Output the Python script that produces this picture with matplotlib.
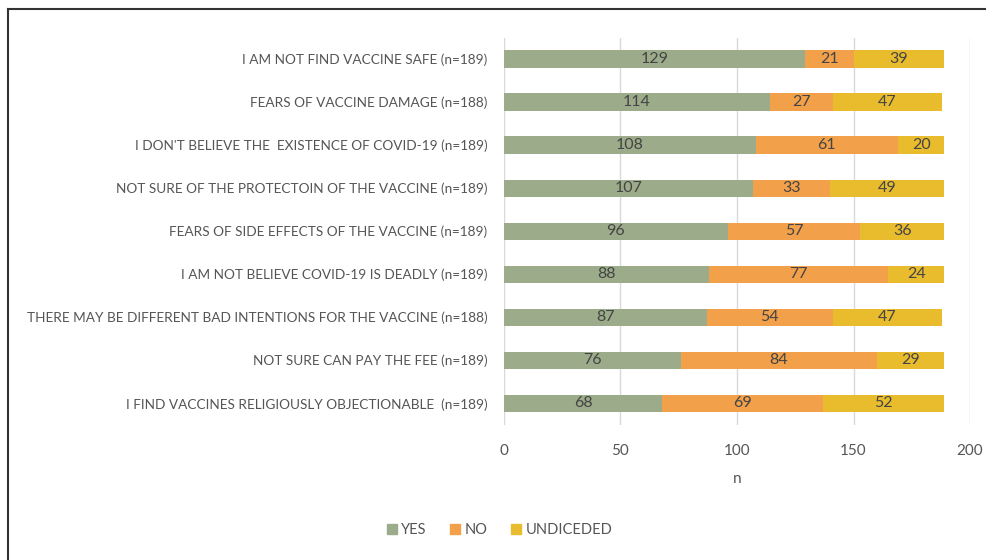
import matplotlib.pyplot as plt
import numpy as np
from matplotlib.lines import Line2D

plt.rcParams['font.family'] = ['Lato', 'DejaVu Sans']

# Данi (зверху вниз)
labels = [
    "I AM NOT FIND VACCINE SAFE (n=189)",
    "FEARS OF VACCINE DAMAGE (n=188)",
    "I DON'T BELIEVE THE  EXISTENCE OF COVID-19 (n=189)",
    "NOT SURE OF THE PROTECTOIN OF THE VACCINE (n=189)",
    "FEARS OF SIDE EFFECTS OF THE VACCINE (n=189)",
    "I AM NOT BELIEVE COVID-19 IS DEADLY (n=189)",
    "THERE MAY BE DIFFERENT BAD INTENTIONS FOR THE VACCINE (n=188)",
    "NOT SURE CAN PAY THE FEE (n=189)",
    "I FIND VACCINES RELIGIOUSLY OBJECTIONABLE  (n=189)",
]
yes = [129, 114, 108, 107, 96, 88, 87, 76, 68]
no = [21, 27, 61, 33, 57, 77, 54, 84, 69]
undecided = [39, 47, 20, 49, 36, 24, 47, 29, 52]

series_names = ["YES", "NO", "UNDICEDED"]
colors = ["#9cac8a", "#f2a04a", "#e9bc2e"]
text_col = "#444444"

fig = plt.figure(figsize=(9.87, 5.6), dpi=100)
ax = fig.add_axes([0.5106, 0.2415, 0.4722, 0.6915])

y = np.arange(len(labels))
left = np.zeros(len(labels))
for vals, name, c in zip([yes, no, undecided], series_names, colors):
    bars = ax.barh(y, vals, left=left, height=0.4, color=c, label=name, zorder=3)
    ax.bar_label(bars, labels=[str(v) for v in vals], label_type='center',
                 fontsize=11.5, color=text_col)
    left = left + np.array(vals)

ax.set_ylim(len(labels) - 0.5, -0.5)
ax.set_xlim(0, 200)
ax.set_xticks([0, 50, 100, 150, 200])
ax.set_yticks(y)
ax.set_yticklabels(labels, fontsize=9.8, color="#555555")
ax.tick_params(axis='y', length=0, pad=12)
ax.tick_params(axis='x', length=0, pad=14, labelsize=11, labelcolor="#555555")
ax.grid(axis='x', color="#d9d9d9", linewidth=1, zorder=0)
for s in ax.spines.values():
    s.set_visible(False)
ax.set_xlabel("n", fontsize=11, color="#555555", labelpad=10)

handles = [plt.Rectangle((0, 0), 1, 1, color=c) for c in colors]
fig.legend(handles, series_names, loc='center', bbox_to_anchor=(0.506, 0.054),
           ncol=3, frameon=False, fontsize=10.5, handlelength=0.7, handleheight=0.7,
           handletextpad=0.3, columnspacing=1.6, labelcolor="#555555")

# рамка зверху i злiва
fig.add_artist(Line2D([8 / 987, 8 / 987], [0, 1 - 9 / 560], color="#333333", linewidth=1.5))
fig.add_artist(Line2D([8 / 987, 1], [1 - 9 / 560, 1 - 9 / 560], color="#333333", linewidth=1.5))

fig.savefig("out.png", dpi=100)
